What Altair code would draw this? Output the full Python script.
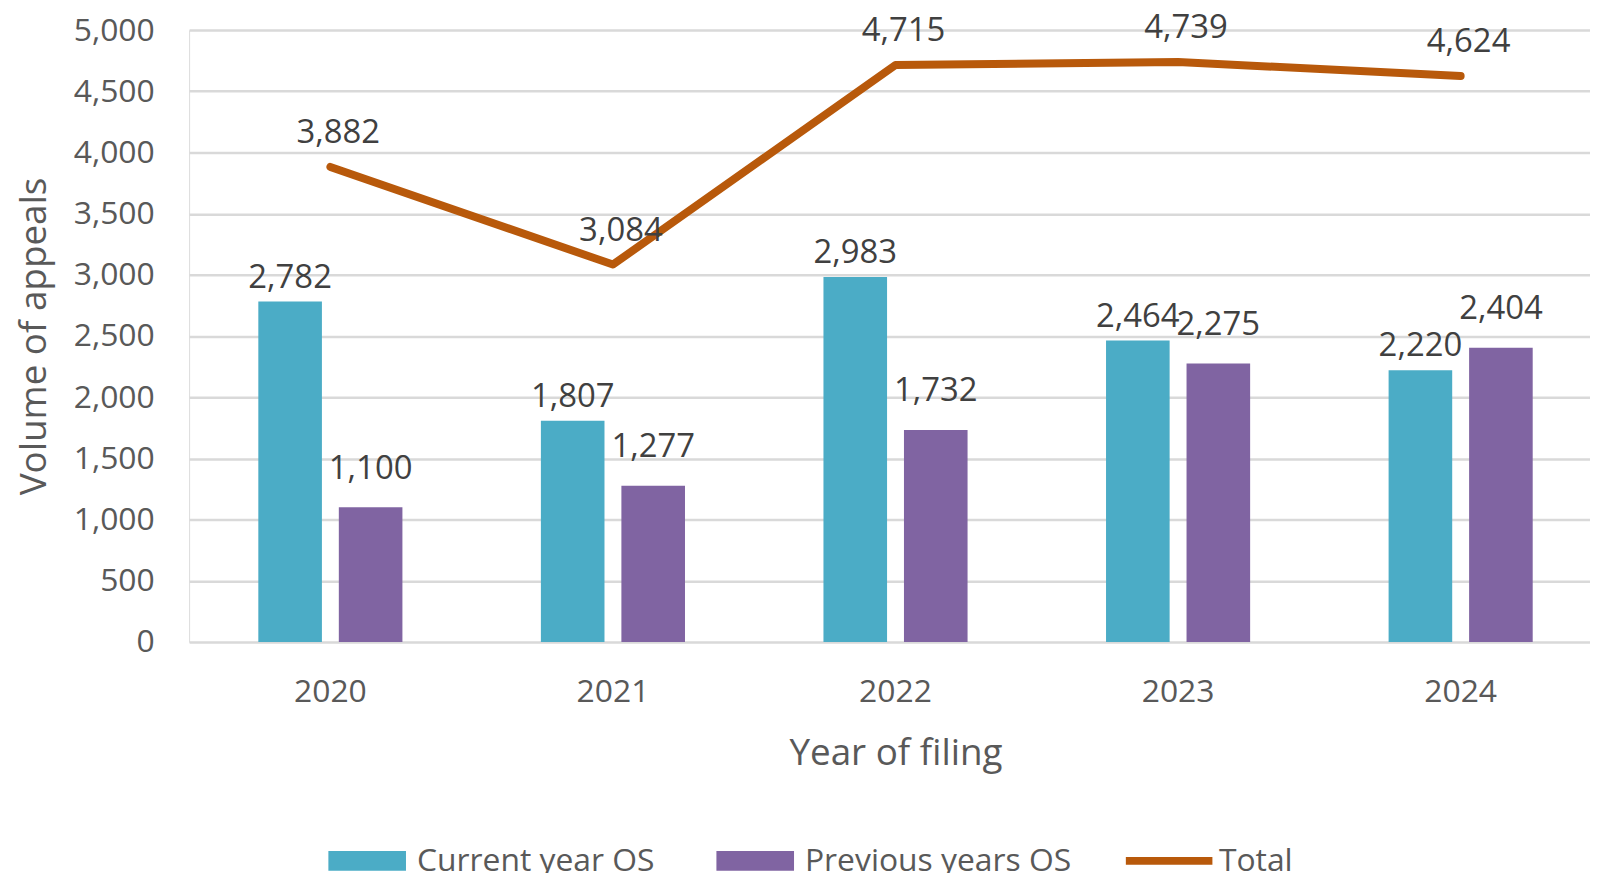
import altair as alt
import pandas as pd

years = ["2020", "2021", "2022", "2023", "2024"]
current_year_os = [2782, 1807, 2983, 2464, 2220]
previous_years_os = [1100, 1277, 1732, 2275, 2404]
total = [3882, 3084, 4715, 4739, 4624]
bar_series = ["Current year OS", "Previous years OS"]
line_series = ["Total"]
y_tick_values = [0, 500, 1000, 1500, 2000, 2500, 3000, 3500, 4000, 4500, 5000]

TEAL = "#4BACC6"
PURPLE = "#8064A2"
ORANGE = "#B8590B"
TEXT = "#595959"
LABEL = "#404040"
GRID = "#D9D9D9"
FONT = "Open Sans"

bars_df = pd.DataFrame({
    "year": years + years,
    "series": [bar_series[0]] * len(years) + [bar_series[1]] * len(years),
    "value": current_year_os + previous_years_os,
})
total_df = pd.DataFrame({"year": years, "value": total, "series": line_series * len(years)})

x_enc = alt.X(
    "year:N",
    scale=alt.Scale(domain=years, paddingInner=0, paddingOuter=0, rangeMin=0, rangeMax=1420),
    axis=alt.Axis(
        title="Year of filing", labelAngle=0, ticks=False, tickSize=0, domain=False,
        labelFont=FONT, labelFontSize=32, labelColor=TEXT, labelBaseline="middle", labelPadding=50,
        titleFont=FONT, titleFontSize=37, titleFontWeight="normal", titleColor=TEXT,
        titleX=710, titleY=112, titleBaseline="middle", titleAnchor="middle",
    ),
)
y_enc = alt.Y(
    "value:Q",
    scale=alt.Scale(domain=[0, 5000], nice=False),
    axis=alt.Axis(
        title="Volume of appeals", values=y_tick_values, format=",.0f", ticks=False, tickSize=0,
        domain=False, grid=True, gridColor=GRID, gridWidth=2.5,
        labelFont=FONT, labelFontSize=32, labelColor=TEXT, labelPadding=35,
        titleFont=FONT, titleFontSize=37, titleFontWeight="normal", titleColor=TEXT,
        titleX=-155, titleY=307.5, titleAngle=270, titleBaseline="middle", titleAnchor="middle",
    ),
)
xoff = alt.XOffset("series:N", scale=alt.Scale(domain=bar_series, paddingInner=0.21, paddingOuter=0.86))

bars = alt.Chart(bars_df).mark_bar().encode(
    x=x_enc,
    xOffset=xoff,
    y=y_enc,
    fill=alt.Fill(
        "series:N",
        scale=alt.Scale(domain=bar_series, range=[TEAL, PURPLE]),
        legend=alt.Legend(
            title=None, orient="none", legendX=163, legendY=819, direction="horizontal",
            symbolType="M-3.9,-1H3.9V1H-3.9Z", symbolSize=400, symbolStrokeWidth=0, symbolOpacity=1,
            labelFont=FONT, labelFontSize=32, labelColor=TEXT, labelOffset=34, labelLimit=500,
            columnPadding=62, padding=0,
        ),
    ),
)

label_current = alt.Chart(bars_df).transform_filter(
    alt.datum.series == bar_series[0]
).mark_text(font=FONT, fontSize=33, color=LABEL, baseline="alphabetic", dy=-14).encode(
    x=alt.X("year:N"), xOffset=xoff, y=alt.Y("value:Q"), text=alt.Text("value:Q", format=",")
)
label_previous = alt.Chart(bars_df).transform_filter(
    alt.datum.series == bar_series[1]
).mark_text(font=FONT, fontSize=33, color=LABEL, baseline="alphabetic", dy=-29).encode(
    x=alt.X("year:N"), xOffset=xoff, y=alt.Y("value:Q"), text=alt.Text("value:Q", format=",")
)

line = alt.Chart(total_df).mark_line(strokeWidth=8, strokeCap="round", strokeJoin="round").encode(
    x=alt.X("year:N"),
    y=alt.Y("value:Q"),
    stroke=alt.Stroke(
        "series:N",
        scale=alt.Scale(domain=line_series, range=[ORANGE]),
        legend=alt.Legend(
            title=None, orient="none", legendX=969, legendY=819, direction="horizontal",
            symbolType="M-4.35,0H4.35", symbolSize=400, symbolStrokeWidth=8,
            labelFont=FONT, labelFontSize=32, labelColor=TEXT, labelOffset=34, labelLimit=500, padding=0,
        ),
    ),
)
line_labels = alt.Chart(total_df).mark_text(
    font=FONT, fontSize=33, color=LABEL, baseline="alphabetic", dy=-24, dx=8
).encode(x=alt.X("year:N"), y=alt.Y("value:Q"), text=alt.Text("value:Q", format=","))

chart = alt.layer(bars, label_current, label_previous, line, line_labels).properties(
    width=1408, height=615,
    autosize=alt.AutoSizeParams(type="none"),
    padding={"left": 182, "top": 20, "right": 0, "bottom": 230},
).configure_view(stroke=None).configure(background="white")

chart.save("out.html", embed_options={"renderer": "svg", "actions": False})
